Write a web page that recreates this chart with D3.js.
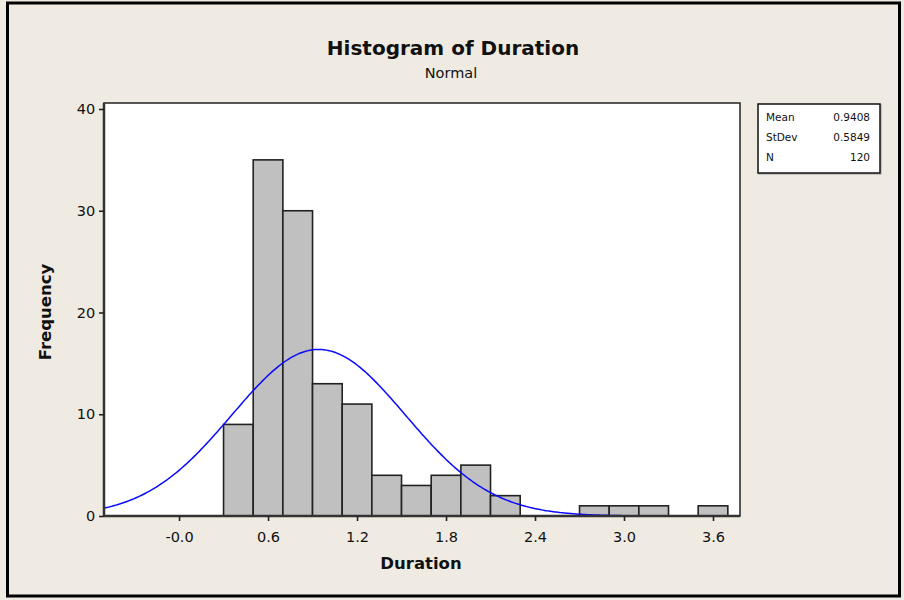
<!DOCTYPE html>
<html>
<head>
<meta charset="utf-8">
<script src="https://cdn.jsdelivr.net/npm/d3@7"></script>
<style>
  body { margin: 0; background: #efebe2; }
  text { font-family: "DejaVu Sans", Verdana, sans-serif; fill: #111; }
</style>
</head>
<body>
<div class="chart"></div>
<script>
// histogram bins (centres) and counts
var binCenters = [0.4, 0.6, 0.8, 1.0, 1.2, 1.4, 1.6, 1.8, 2.0, 2.2, 2.4, 2.6, 2.8, 3.0, 3.2, 3.4, 3.6];
var counts     = [9, 35, 30, 13, 11, 4, 3, 4, 5, 2, 0, 0, 1, 1, 1, 0, 1];
var binWidth = 0.2;

var xTicks = [0, 0.6, 1.2, 1.8, 2.4, 3.0, 3.6];
var xTickLabels = ["-0.0", "0.6", "1.2", "1.8", "2.4", "3.0", "3.6"];
var yTicks = [0, 10, 20, 30, 40];

var statNames = ["Mean", "StDev", "N"];
var statValues = ["0.9408", "0.5849", "120"];
var mean = 0.9408, stdev = 0.5849, n = 120;

var svgWidth = 904;
var svgHeight = 600;

var plot = { left: 104, right: 740, top: 103, bottom: 516 };

var svg = d3.select(".chart")
  .append("svg")
  .attr("width", svgWidth)
  .attr("height", svgHeight);

svg.append("rect")
  .attr("width", svgWidth).attr("height", svgHeight)
  .attr("fill", "#efebe2");

// outer frame
svg.append("rect")
  .attr("x", 7.5).attr("y", 3)
  .attr("width", 892).attr("height", 593)
  .attr("fill", "none")
  .attr("stroke", "#000")
  .attr("stroke-width", 3);

var x = d3.scaleLinear().domain([-0.506, 3.782]).range([plot.left, plot.right]);
var y = d3.scaleLinear().domain([0, 40]).range([plot.bottom, 109]);

// plot area
svg.append("rect")
  .attr("x", plot.left).attr("y", plot.top)
  .attr("width", plot.right - plot.left)
  .attr("height", plot.bottom - plot.top)
  .attr("fill", "#fff")
  .attr("stroke", "#222")
  .attr("stroke-width", 1.5);

// bars
svg.append("g").selectAll("rect")
  .data(binCenters.map(function(c, i) { return { c: c, v: counts[i] }; }).filter(function(d) { return d.v > 0; }))
  .enter().append("rect")
  .attr("x", function(d) { return x(d.c - binWidth / 2); })
  .attr("y", function(d) { return y(d.v); })
  .attr("width", function(d) { return x(d.c + binWidth / 2) - x(d.c - binWidth / 2); })
  .attr("height", function(d) { return y(0) - y(d.v); })
  .attr("fill", "#c0c0c0")
  .attr("stroke", "#222")
  .attr("stroke-width", 1.6);

// fitted normal curve
var scale = n * binWidth / (stdev * Math.sqrt(2 * Math.PI));
var curvePts = d3.range(-0.506, 3.11, 0.01).map(function(v) {
  var z = (v - mean) / stdev;
  return [v, scale * Math.exp(-0.5 * z * z)];
});
svg.append("path")
  .datum(curvePts)
  .attr("fill", "none")
  .attr("stroke", "#0a0aff")
  .attr("stroke-width", 1.5)
  .attr("d", d3.line().x(function(d) { return x(d[0]); }).y(function(d) { return y(d[1]); }));

// axes
var bottomAxis = d3.axisBottom(x).tickValues(xTicks).tickSize(5).tickSizeOuter(0)
  .tickFormat(function(d, i) { return xTickLabels[i]; });
var leftAxis = d3.axisLeft(y).tickValues(yTicks).tickSize(5).tickSizeOuter(0);

var gx = svg.append("g")
  .attr("transform", "translate(0," + plot.bottom + ")")
  .call(bottomAxis);
var gy = svg.append("g")
  .attr("transform", "translate(" + plot.left + ",0)")
  .call(leftAxis);

[gx, gy].forEach(function(g) {
  g.select(".domain").attr("stroke", "#333").attr("stroke-width", 2.5);
  g.selectAll(".tick line").attr("stroke", "#222").attr("stroke-width", 1.6);
  g.selectAll(".tick text").attr("font-size", 14.5).attr("font-family", "DejaVu Sans").attr("fill", "#111");
});
gx.select(".domain").attr("d", "M" + plot.left + ",0H" + plot.right);
gy.select(".domain").attr("d", "M0," + plot.top + "V" + plot.bottom);
gx.selectAll(".tick text").attr("dy", "1.25em");
gy.selectAll(".tick text").attr("dx", "-0.05em");

// titles
svg.append("text")
  .attr("x", 453).attr("y", 55)
  .attr("text-anchor", "middle")
  .attr("font-size", 20).attr("font-weight", "bold")
  .text("Histogram of Duration");
svg.append("text")
  .attr("x", 451).attr("y", 78)
  .attr("text-anchor", "middle")
  .attr("font-size", 14.5)
  .text("Normal");

svg.append("text")
  .attr("x", 421).attr("y", 569)
  .attr("text-anchor", "middle")
  .attr("font-size", 16.5).attr("font-weight", "bold")
  .text("Duration");
svg.append("text")
  .attr("transform", "translate(51,312) rotate(-90)")
  .attr("text-anchor", "middle")
  .attr("font-size", 16.5).attr("font-weight", "bold")
  .text("Frequency");

// statistics box
var box = svg.append("g").attr("transform", "translate(758,104)");
box.append("rect")
  .attr("x", 1).attr("y", 1).attr("width", 122).attr("height", 69)
  .attr("fill", "none").attr("stroke", "#999").attr("stroke-width", 1);
box.append("rect")
  .attr("width", 122).attr("height", 69)
  .attr("fill", "#fff").attr("stroke", "#111").attr("stroke-width", 1.5);
statNames.forEach(function(name, i) {
  box.append("text")
    .attr("x", 8).attr("y", 17 + i * 20)
    .attr("font-size", 10.5)
    .text(name);
  box.append("text")
    .attr("x", 112).attr("y", 17 + i * 20)
    .attr("text-anchor", "end")
    .attr("font-size", 10.5)
    .text(statValues[i]);
});
</script>
</body>
</html>
